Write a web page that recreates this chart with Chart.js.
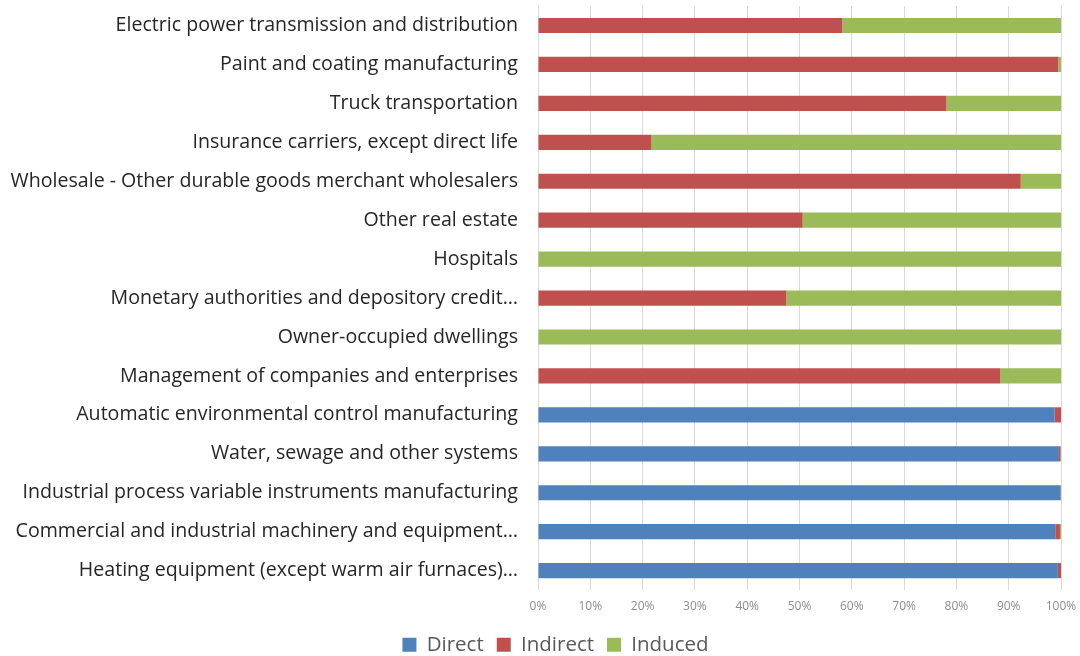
<!DOCTYPE html>
<html>
<head>
<meta charset="utf-8">
<script src="https://cdn.jsdelivr.net/npm/chart.js@4.4.1/dist/chart.umd.min.js"></script>
<style>
html,body{margin:0;padding:0;background:#fff;}
#wrap{width:1080px;height:656px;position:relative;}
</style>
</head>
<body>
<div id="wrap"><canvas id="c"></canvas></div>
<script>
const categories = [
  "Electric power transmission and distribution",
  "Paint and coating manufacturing",
  "Truck transportation",
  "Insurance carriers, except direct life",
  "Wholesale - Other durable goods merchant wholesalers",
  "Other real estate",
  "Hospitals",
  "Monetary authorities and depository credit…",
  "Owner-occupied dwellings",
  "Management of companies and enterprises",
  "Automatic environmental control manufacturing",
  "Water, sewage and other systems",
  "Industrial process variable instruments manufacturing",
  "Commercial and industrial machinery and equipment…",
  "Heating equipment (except warm air furnaces)…"
];
const directValues   = [0, 0, 0, 0, 0, 0, 0, 0, 0, 0, 98.8, 99.6, 99.9, 98.9, 99.4];
const indirectValues = [58.2, 99.5, 78.1, 21.7, 92.3, 50.6, 0, 47.5, 0, 88.4, 1.2, 0.3, 0.1, 0.9, 0.6];
const inducedValues  = [41.8, 0.5, 21.9, 78.3, 7.7, 49.4, 100, 52.5, 100, 11.6, 0, 0.1, 0, 0.2, 0];
const xTickValues = [0, 10, 20, 30, 40, 50, 60, 70, 80, 90, 100];

const shiftLegend = {
  id: 'shiftLegend',
  afterLayout(chart) {
    const lg = chart.legend;
    if (lg) { lg.left += 25; lg.right += 25; }
  }
};

const ctx = document.getElementById('c');
new Chart(ctx, {
  type: 'bar',
  data: {
    labels: categories,
    datasets: [
      {label: 'Direct', data: directValues, backgroundColor: '#4F81BD'},
      {label: 'Indirect', data: indirectValues, backgroundColor: '#C0504D'},
      {label: 'Induced', data: inducedValues, backgroundColor: '#9BBB59'}
    ]
  },
  plugins: [shiftLegend],
  options: {
    indexAxis: 'y',
    responsive: true,
    maintainAspectRatio: false,
    animation: false,
    layout: {padding: {top: 6, right: 19, bottom: -9, left: 0}},
    datasets: {bar: {barPercentage: 0.65, categoryPercentage: 0.6, borderWidth: 0}},
    scales: {
      x: {
        stacked: true,
        min: 0, max: 100,
        afterBuildTicks: (s) => { s.ticks = xTickValues.map(v => ({value: v})); },
        afterFit: (s) => { s.paddingLeft = 0; s.paddingRight = 0; s.height = s.height - 1; },
        ticks: {
          callback: (v) => v + '%',
          color: '#8c8c8c',
          font: {family: 'Open Sans', size: 12},
          padding: 9,
          maxRotation: 0
        },
        grid: {color: '#d9d9d9', lineWidth: 1, drawTicks: false},
        border: {display: false}
      },
      y: {
        stacked: true,
        afterFit: (s) => { s.width = 538; s.paddingTop = 0; s.paddingBottom = 0; },
        ticks: {
          color: '#262626',
          font: {family: 'Open Sans', size: 19.6},
          padding: 20,
          autoSkip: false
        },
        grid: {display: false, drawTicks: false},
        border: {display: false}
      }
    },
    plugins: {
      legend: {
        position: 'bottom',
        labels: {
          color: '#595959',
          font: {family: 'Open Sans', size: 20.5},
          boxWidth: 14,
          boxHeight: 14,
          padding: 13
        }
      },
      tooltip: {enabled: false}
    }
  }
});
</script>
</body>
</html>
